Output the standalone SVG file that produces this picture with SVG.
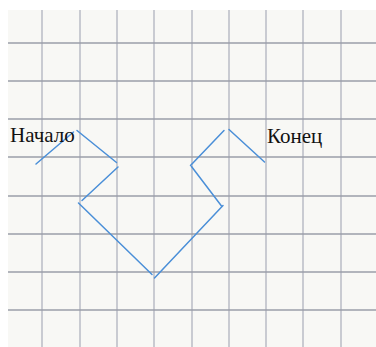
<svg xmlns="http://www.w3.org/2000/svg" width="376" height="347" viewBox="0 0 376 347">
<style>
.g{stroke:#a3a7b4;stroke-width:1.1;fill:none}
.h{stroke:#9a9ea9;stroke-width:1.3;fill:none}
.b{stroke:#4a8fd8;stroke-width:1.5;fill:none;stroke-linecap:round}
.t{font-family:"Liberation Serif","Times New Roman",serif;font-size:21px;fill:#111}
</style>
<rect x="0" y="0" width="376" height="347" fill="#ffffff"/>
<rect x="8" y="10" width="368" height="337" fill="#f8f8f5"/>
<g id="grid">
<path class="g" d="M42 10V347M80 10V347M117 10V347M154 10V347M192 10V347M229 10V347M266 10V347M303 10V347M341 10V347"/>
<path class="h" d="M8 43H376M8 81H376M8 119H376M8 157H376M8 196H376M8 234H376M8 272H376M8 310H376"/>
</g>
<g id="connectors">
<line class="b" x1="36" y1="164" x2="73.5" y2="132"/>
<line class="b" x1="77" y1="130.5" x2="116.5" y2="162.5"/>
<line class="b" x1="118" y1="167" x2="82" y2="200.5"/>
<line class="b" x1="78.5" y1="203" x2="152" y2="274.5"/>
<line class="b" x1="154.5" y1="278" x2="223" y2="205.5"/>
<line class="b" x1="221.5" y1="206" x2="191.5" y2="166.5"/>
<line class="b" x1="190.5" y1="165.5" x2="224" y2="130.5"/>
<line class="b" x1="229" y1="129.5" x2="264.5" y2="162"/>
</g>
<g id="start"><text class="t" x="10" y="142">Начало</text></g>
<g id="end"><text class="t" x="267" y="143">Конец</text></g>
</svg>
